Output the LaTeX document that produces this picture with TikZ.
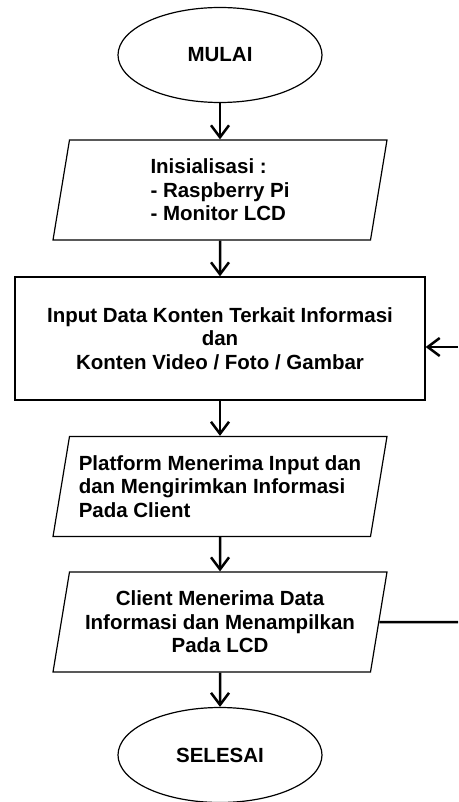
\documentclass[tikz,border=0pt]{standalone}
\usepackage{fontspec}
\setmainfont{Liberation Sans}
\usetikzlibrary{shapes.geometric,arrows.meta}

\begin{document}
\begin{tikzpicture}[x=1pt, y=-1pt,
    every node/.style={font=\fontsize{20.5}{23.5}\selectfont\bfseries},
    terminal/.style={draw, ellipse, line width=1.2pt, minimum width=204pt, minimum height=95pt},
    io/.style={draw, trapezium, trapezium left angle=76.5, trapezium right angle=103.5,
      trapezium stretches body, minimum width=334pt, minimum height=100pt, line width=1.2pt},
    process/.style={draw, rectangle, line width=1.2pt, minimum width=410pt, minimum height=123pt},
    flow/.style={line width=2.5pt, -{Straight Barb[length=12pt,width=18pt]}}]
    \useasboundingbox (0,0) rectangle (458,802);
    \node[terminal] (mulai) at (220,55) {MULAI};
    \node[io, align=left] (init) at (220,190) {Inisialisasi :\\- Raspberry Pi\\- Monitor LCD};
    \node[process, align=center] (input) at (220,338.5) {Input Data Konten Terkait Informasi\\dan\\Konten Video / Foto / Gambar};
    \node[io, align=left] (platform) at (220,486.5) {Platform Menerima Input dan\\dan Mengirimkan Informasi\\Pada Client};
    \node[io, align=center] (client) at (220,622) {Client Menerima Data\\Informasi dan Menampilkan\\Pada LCD};
    \node[terminal] (selesai) at (220,755) {SELESAI};
    \coordinate (backin) at (458,347);
    \coordinate (backout) at (458,622);
    \draw[flow] (mulai) -- (init);
    \draw[flow] (init) -- (input);
    \draw[flow] (input) -- (platform);
    \draw[flow] (platform) -- (client);
    \draw[flow] (client) -- (selesai);
    \draw[line width=2.5pt] (client.east) -- (backout);
    \draw[flow] (backin) -- (input.east |- backin);
  \end{tikzpicture}
\end{document}
